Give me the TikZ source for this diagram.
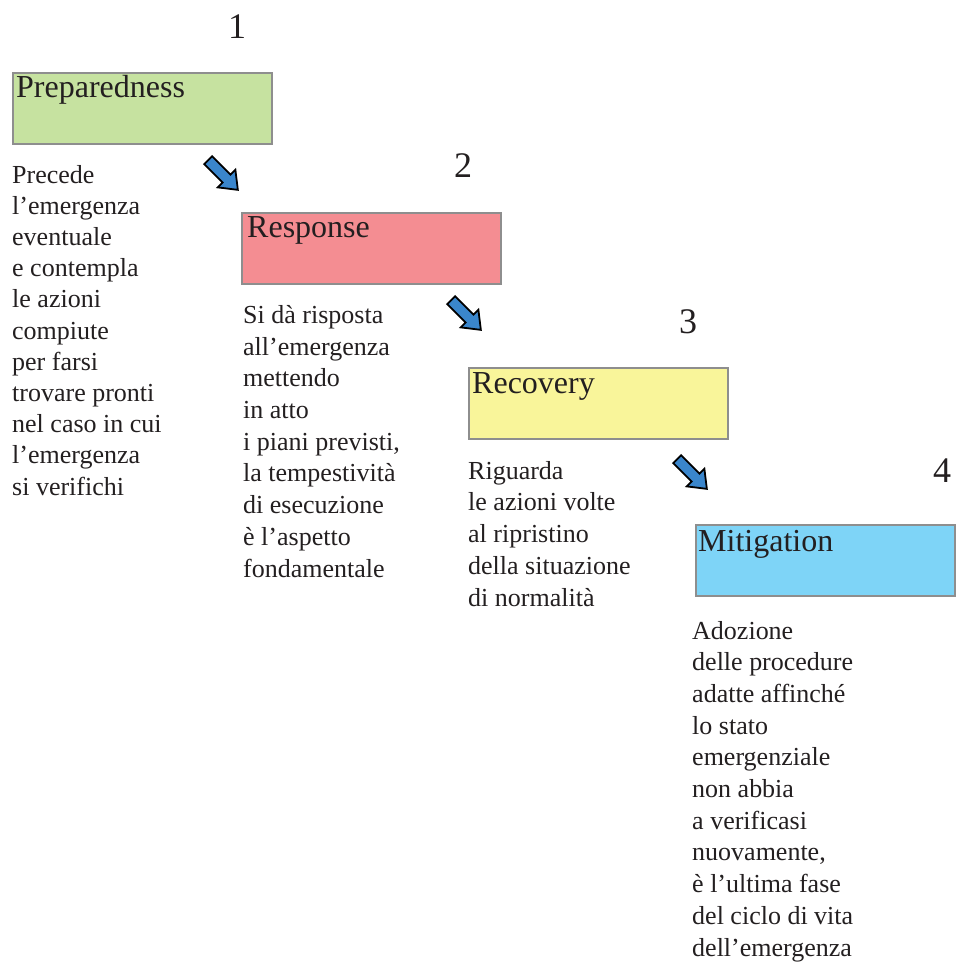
\documentclass[tikz,border=0pt]{standalone}
\usepackage{fontspec}
\setmainfont{Liberation Serif}
\definecolor{ink}{HTML}{231F20}
\definecolor{frame}{HTML}{8E8E8E}
\definecolor{prepfill}{HTML}{C6E2A0}
\definecolor{respfill}{HTML}{F48D92}
\definecolor{recofill}{HTML}{F9F59A}
\definecolor{mitifill}{HTML}{7ED4F7}
\definecolor{arrowblue}{HTML}{3A86CC}
\tikzset{
  x=1pt, y=-1pt,
  phasebox/.style={draw=frame, line width=2.4pt, minimum width=259pt, minimum height=71pt, inner sep=0pt, anchor=north west},
  phaselabel/.style={anchor=base west, inner sep=0pt, text=ink, font=\fontsize{32}{38}\selectfont},
  phasenum/.style={anchor=base, inner sep=0pt, text=ink, font=\fontsize{36}{40}\selectfont},
  % multi-line descriptions are placed by the baseline of their last line
  phasetext/.style={anchor=base west, inner sep=0pt, text=ink, align=left, font=\fontsize{26}{31.7}\selectfont},
  blockarrow/.pic={
    \draw[fill=arrowblue, draw=black, line width=1.8pt, line join=miter]
      (-21,-5.5) -- (5,-5.5) -- (5,-12.5) -- (21,0) -- (5,12.5) -- (5,5.5) -- (-21,5.5) -- cycle;
  }
}
\begin{document}
\begin{tikzpicture}
\useasboundingbox (0,0) rectangle (956,962);

% phase boxes
\node[phasebox, fill=prepfill] (prep) at (12,72) {};
\node[phasebox, fill=respfill] (resp) at (241,212) {};
\node[phasebox, fill=recofill] (reco) at (468,367) {};
\node[phasebox, fill=mitifill] (miti) at (695,524) {};

% box titles
\node[phaselabel] (preplabel) at (16,97) {Preparedness};
\node[phaselabel] (resplabel) at (247,237) {Response};
\node[phaselabel] (recolabel) at (472,393) {Recovery};
\node[phaselabel] (mitilabel) at (698,551) {Mitigation};

% step numbers
\node[phasenum] (n1) at (237,38) {1};
\node[phasenum] (n2) at (463,177) {2};
\node[phasenum] (n3) at (688,333) {3};
\node[phasenum] (n4) at (942,482) {4};

% descriptions
\node[phasetext, font=\fontsize{26}{31.2}\selectfont] (preptext) at (12,495) {Precede\\l’emergenza\\eventuale\\e contempla\\le azioni\\compiute\\per farsi\\trovare pronti\\nel caso in cui\\l’emergenza\\si verifichi};
\node[phasetext] (resptext) at (243,577) {Si dà risposta\\all’emergenza\\mettendo\\in atto\\i piani previsti,\\la tempestività\\di esecuzione\\è l’aspetto\\fondamentale};
\node[phasetext] (recotext) at (468,606) {Riguarda\\le azioni volte\\al ripristino\\della situazione\\di normalità};
\node[phasetext] (mititext) at (692,956) {Adozione\\delle procedure\\adatte affinché\\lo stato\\emergenziale\\non abbia\\a verificasi\\nuovamente,\\è l’ultima fase\\del ciclo di vita\\dell’emergenza};

% arrows between phases
\pic[rotate=-45] at (223,175) {blockarrow};
\pic[rotate=-45] at (466,315) {blockarrow};
\pic[rotate=-45] at (692,474) {blockarrow};
\end{tikzpicture}
\end{document}
